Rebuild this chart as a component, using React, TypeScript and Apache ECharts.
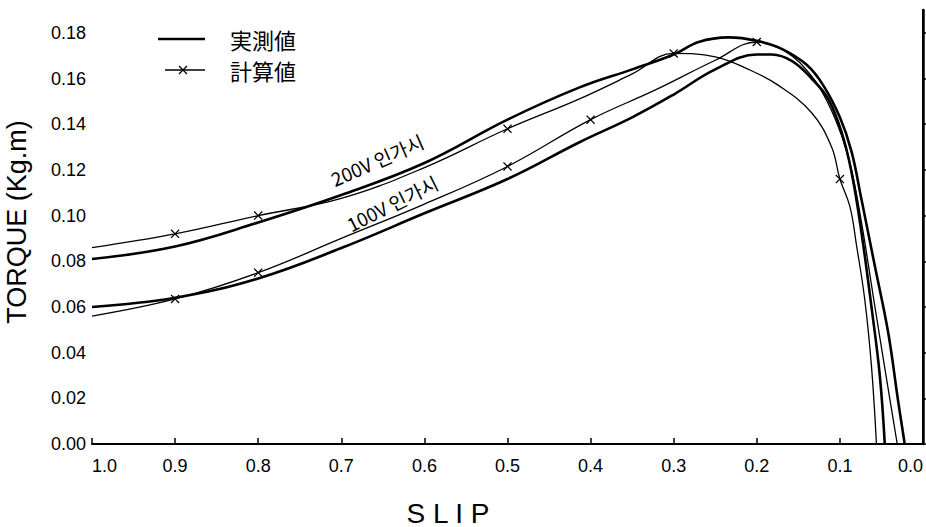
import React, { useEffect, useRef } from "react";
import * as echarts from "echarts";

// ---- data ----
const SLIP_200_MEAS = [1.0, 0.9, 0.8, 0.7, 0.6, 0.5, 0.414, 0.35, 0.3, 0.27, 0.234, 0.2, 0.17, 0.14, 0.12, 0.1, 0.086, 0.074, 0.058, 0.042, 0.03, 0.022];
const TORQUE_200_MEAS = [0.081, 0.0865, 0.097, 0.109, 0.123, 0.142, 0.156, 0.164, 0.1705, 0.176, 0.178, 0.1765, 0.173, 0.166, 0.157, 0.143, 0.128, 0.107, 0.078, 0.049, 0.019, 0];

const SLIP_200_CALC = [1.0, 0.9, 0.8, 0.7, 0.6, 0.5, 0.414, 0.35, 0.3, 0.25, 0.21, 0.174, 0.134, 0.11, 0.1, 0.088, 0.08, 0.07, 0.062, 0.056];
const TORQUE_200_CALC = [0.086, 0.092, 0.1, 0.1075, 0.121, 0.138, 0.151, 0.162, 0.171, 0.1695, 0.164, 0.157, 0.145, 0.13, 0.116, 0.104, 0.087, 0.063, 0.034, 0];
const MARKS_200_CALC = [0.9, 0.8, 0.5, 0.3, 0.1];

const SLIP_100_MEAS = [1.0, 0.9, 0.8, 0.7, 0.6, 0.5, 0.414, 0.35, 0.3, 0.25, 0.2, 0.182, 0.158, 0.134, 0.114, 0.098, 0.086, 0.074, 0.062, 0.052, 0.046];
const TORQUE_100_MEAS = [0.06, 0.064, 0.0725, 0.0858, 0.101, 0.116, 0.132, 0.143, 0.153, 0.164, 0.1705, 0.1705, 0.1677, 0.16, 0.151, 0.1365, 0.119, 0.0925, 0.06, 0.03, 0];

const SLIP_100_CALC = [1.0, 0.9, 0.8, 0.7, 0.6, 0.5, 0.4, 0.322, 0.25, 0.2, 0.166, 0.134, 0.114, 0.098, 0.086, 0.074, 0.06, 0.045, 0.031];
const TORQUE_100_CALC = [0.056, 0.0635, 0.075, 0.09, 0.105, 0.1215, 0.142, 0.155, 0.168, 0.176, 0.172, 0.161, 0.149, 0.135, 0.12, 0.097, 0.065, 0.031, 0];
const MARKS_100_CALC = [0.9, 0.8, 0.5, 0.4, 0.2];

const Y_TICKS = [0, 0.02, 0.04, 0.06, 0.08, 0.1, 0.12, 0.14, 0.16, 0.18];

const NAME_MEAS = "実測値";
const NAME_CALC = "計算値";
const LABEL_200 = { text: "200V 인가시", slip: 0.657, torque: 0.1245, angle: 23.6 };
const LABEL_100 = { text: "100V 인가시", slip: 0.639, torque: 0.1055, angle: 26.5 };

const FONT = "'Liberation Sans', Arial, sans-serif";
const XMARK = "path://M0,1 L1,0 L5,4 L9,0 L10,1 L6,5 L10,9 L9,10 L5,6 L1,10 L0,9 L4,5 Z";
const MEAS_W = 2.6;
const CALC_W = 1.3;

function pts(xs: number[], ys: number[], marks?: number[]) {
  return xs.map((x, i) => {
    const item: any = { value: [x, ys[i]] };
    if (!marks || !marks.some((m) => Math.abs(m - x) < 1e-9)) item.symbol = "none";
    return item;
  });
}

export default function App() {
  const ref = useRef<HTMLDivElement>(null);
  useEffect(() => {
    if (!ref.current) return;
    const chart = echarts.init(ref.current, null, { renderer: "svg" });
    const measLine = (name: string, xs: number[], ys: number[]) => ({
      type: "line",
      name,
      data: pts(xs, ys),
      smooth: 0.4,
      symbol: "none",
      lineStyle: { color: "#000", width: MEAS_W },
      itemStyle: { color: "#000" },
      z: 3,
    });
    const calcLine = (name: string, xs: number[], ys: number[], marks: number[]) => ({
      type: "line",
      name,
      data: pts(xs, ys, marks),
      smooth: 0.4,
      symbol: XMARK,
      symbolSize: 9,
      showSymbol: true,
      lineStyle: { color: "#000", width: CALC_W },
      itemStyle: { color: "#000" },
      z: 4,
    });
    chart.setOption({
      animation: false,
      backgroundColor: "#fff",
      grid: { left: 92, right: 3, top: 10, bottom: 83 },
      xAxis: {
        type: "value",
        min: 0,
        max: 1,
        interval: 0.1,
        inverse: true,
        axisLine: { lineStyle: { color: "#000", width: 2 } },
        axisTick: { inside: true, length: 6, lineStyle: { color: "#000", width: 1.5 } },
        axisLabel: {
          color: "#000",
          fontSize: 18,
          margin: 13,
          fontFamily: FONT,
          formatter: (v: number) => v.toFixed(1),
          alignMinLabel: "right",
          alignMaxLabel: "left",
        },
        splitLine: { show: false },
      },
      yAxis: [
        {
          type: "value",
          min: 0,
          max: 0.19,
          interval: 0.02,
          axisLine: { show: true, lineStyle: { color: "#000", width: 2 } },
          axisTick: { inside: true, length: 7, customValues: Y_TICKS, lineStyle: { color: "#000", width: 1.5 } },
          axisLabel: {
            customValues: Y_TICKS,
            color: "#000",
            fontSize: 18,
            margin: 6,
            fontFamily: FONT,
            formatter: (v: number) => (Math.abs(Math.round(v * 50) - v * 50) < 1e-6 ? v.toFixed(2) : ""),
          },
          splitLine: { show: false },
        },
        {
          type: "value",
          position: "right",
          min: 0,
          max: 0.19,
          axisLine: { show: true, lineStyle: { color: "#000", width: 2.5 } },
          axisTick: { show: false },
          axisLabel: { show: false },
          splitLine: { show: false },
        },
      ],
      series: [
        measLine(NAME_MEAS, SLIP_200_MEAS, TORQUE_200_MEAS),
        calcLine(NAME_CALC, SLIP_200_CALC, TORQUE_200_CALC, MARKS_200_CALC),
        measLine(NAME_MEAS, SLIP_100_MEAS, TORQUE_100_MEAS),
        calcLine(NAME_CALC, SLIP_100_CALC, TORQUE_100_CALC, MARKS_100_CALC),
      ],
    });
    const p200 = chart.convertToPixel({ gridIndex: 0 }, [LABEL_200.slip, LABEL_200.torque]) as number[];
    const p100 = chart.convertToPixel({ gridIndex: 0 }, [LABEL_100.slip, LABEL_100.torque]) as number[];
    const kr = "'Noto Sans CJK KR', sans-serif";
    const jp = "'Noto Sans CJK JP', sans-serif";
    chart.setOption({
      graphic: [
        // legend
        { type: "line", shape: { x1: 158, y1: 39, x2: 205, y2: 39 }, style: { stroke: "#000", lineWidth: MEAS_W } },
        { type: "text", x: 230, y: 39, style: { text: NAME_MEAS, fontSize: 22, fontFamily: jp, fill: "#000", verticalAlign: "middle" } },
        { type: "line", shape: { x1: 165, y1: 70, x2: 205, y2: 70 }, style: { stroke: "#000", lineWidth: CALC_W } },
        { type: "line", shape: { x1: 179, y1: 66, x2: 187, y2: 74 }, style: { stroke: "#000", lineWidth: 1.3 } },
        { type: "line", shape: { x1: 187, y1: 66, x2: 179, y2: 74 }, style: { stroke: "#000", lineWidth: 1.3 } },
        { type: "text", x: 230, y: 70, style: { text: NAME_CALC, fontSize: 22, fontFamily: jp, fill: "#000", verticalAlign: "middle" } },
        // axis titles
        {
          type: "text",
          x: 17,
          y: 222,
          rotation: Math.PI / 2,
          style: { text: "TORQUE (Kg.m)", fontSize: 27, fontFamily: FONT, fill: "#000", align: "center", verticalAlign: "middle" },
        },
        {
          type: "text",
          x: 448,
          y: 513,
          style: { text: "S L I P", fontSize: 28, fontFamily: FONT, fill: "#000", align: "center", verticalAlign: "middle" },
        },
        // curve annotations
        {
          type: "text",
          x: p200[0],
          y: p200[1],
          rotation: (LABEL_200.angle * Math.PI) / 180,
          style: { text: LABEL_200.text, fontSize: 19, fontFamily: kr, fill: "#000", align: "center", verticalAlign: "middle" },
        },
        {
          type: "text",
          x: p100[0],
          y: p100[1],
          rotation: (LABEL_100.angle * Math.PI) / 180,
          style: { text: LABEL_100.text, fontSize: 19, fontFamily: kr, fill: "#000", align: "center", verticalAlign: "middle" },
        },
      ],
    });
    return () => chart.dispose();
  }, []);
  return <div ref={ref} style={{ position: "absolute", left: 0, top: 0, width: 926, height: 527 }} />;
}
